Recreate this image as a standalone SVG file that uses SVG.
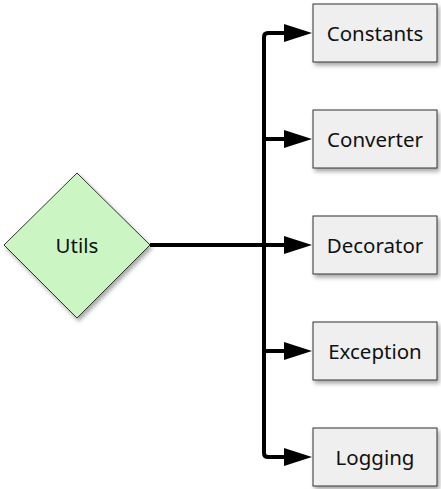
<svg xmlns="http://www.w3.org/2000/svg" width="441" height="489" viewBox="0 0 441 489">
<defs>
<filter id="sh" x="-20%" y="-20%" width="150%" height="150%">
<feDropShadow dx="2" dy="3" stdDeviation="2" flood-color="#000" flood-opacity="0.35"/>
</filter>
</defs>
<style>
.box{fill:#efefef;stroke:#333;stroke-width:1;filter:url(#sh)}
.dia{fill:#ccf5c4;stroke:#333;stroke-width:1;filter:url(#sh)}
.lbl{font-family:"Noto Sans",sans-serif;font-size:20.5px;fill:#111;text-anchor:middle;dominant-baseline:central}
.ln{fill:none;stroke:#000;stroke-width:4}
.ah{fill:#000}
</style>
<g id="connectors">
<path class="ln" d="M150,245 L290,245"/>
<path class="ln" d="M290,33 L268,33 Q264,33 264,37 L264,453 Q264,457 268,457 L290,457"/>
<path class="ln" d="M264,139 L290,139"/>
<path class="ln" d="M264,351 L290,351"/>
<polygon class="ah" points="284,24 312,33 284,42"/>
<polygon class="ah" points="284,130 312,139 284,148"/>
<polygon class="ah" points="284,236 312,245 284,254"/>
<polygon class="ah" points="284,342 312,351 284,360"/>
<polygon class="ah" points="284,448 312,457 284,466"/>
</g>
<g id="utils">
<polygon class="dia" points="77,173 150,245 77,318 4,245"/>
<text class="lbl" x="77" y="245">Utils</text>
</g>
<g id="constants">
<rect class="box" x="313" y="4" width="124" height="58"/>
<text class="lbl" x="375" y="33">Constants</text>
</g>
<g id="converter">
<rect class="box" x="313" y="110" width="124" height="58"/>
<text class="lbl" x="375" y="139">Converter</text>
</g>
<g id="decorator">
<rect class="box" x="313" y="216" width="124" height="58"/>
<text class="lbl" x="375" y="245">Decorator</text>
</g>
<g id="exception">
<rect class="box" x="313" y="322" width="124" height="58"/>
<text class="lbl" x="375" y="351">Exception</text>
</g>
<g id="logging">
<rect class="box" x="313" y="428" width="124" height="58"/>
<text class="lbl" x="375" y="457">Logging</text>
</g>
</svg>
